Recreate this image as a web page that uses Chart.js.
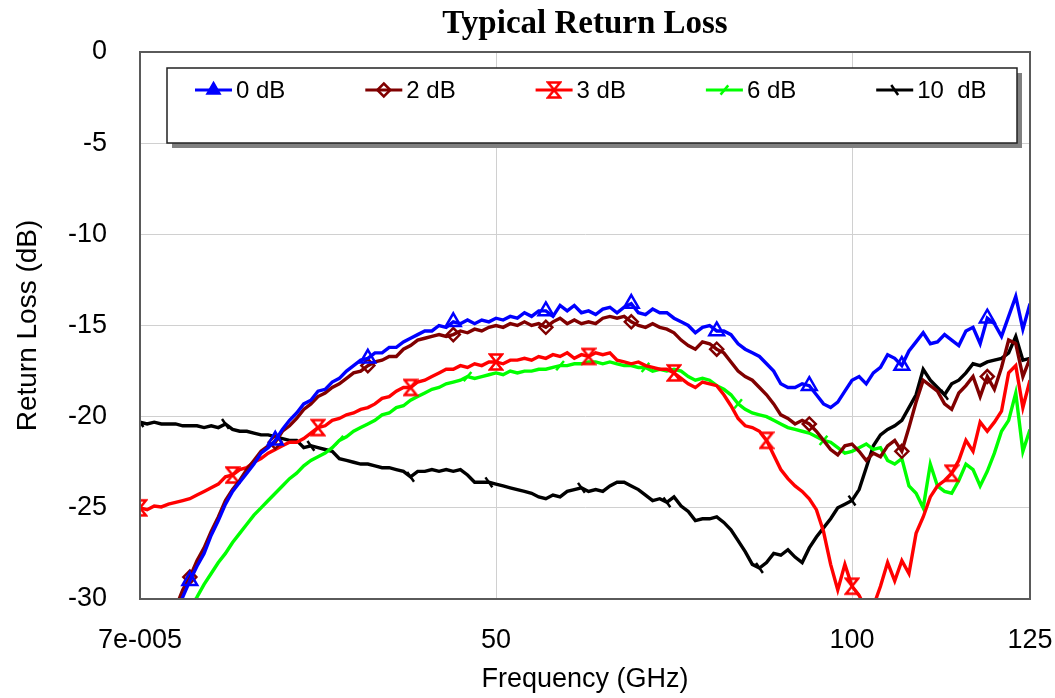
<!DOCTYPE html>
<html>
<head>
<meta charset="utf-8">
<script src="https://cdn.jsdelivr.net/npm/chart.js@4.4.1/dist/chart.umd.min.js"></script>
<style>
html,body{margin:0;padding:0;background:#fff;overflow:hidden}
#wrap{width:1055px;height:698px;position:relative}
</style>
</head>
<body>
<div id="wrap"><canvas id="c" width="1055" height="698"></canvas></div>
<script>
// ---------------- DATA ----------------
const freqGHz = [0,1,2,3,4,5,6,7,8,9,10,11,12,13,14,15,16,17,18,19,20,21,22,23,24,25,26,27,28,29,30,31,32,33,34,35,36,37,38,39,40,41,42,43,44,45,46,47,48,49,50,51,52,53,54,55,56,57,58,59,60,61,62,63,64,65,66,67,68,69,70,71,72,73,74,75,76,77,78,79,80,81,82,83,84,85,86,87,88,89,90,91,92,93,94,95,96,97,98,99,100,101,102,103,104,105,106,107,108,109,110,111,112,113,114,115,116,117,118,119,120,121,122,123,124,125];

const xTickValues = [0, 50, 100, 125];
const xTickLabels = ['7e-005', '50', '100', '125'];
const seriesNames = ['0 dB', '2 dB', '3 dB', '6 dB', '10  dB'];

const rl0dB = [null,null,null,null,null,-30.8,-29.9,-29.0,-28.2,-27.5,-26.5,-25.7,-24.8,-24.1,-23.6,-23.1,-22.6,-22.0,-21.7,-21.3,-20.7,-20.2,-19.8,-19.3,-19.1,-18.6,-18.5,-18.1,-17.9,-17.5,-17.2,-16.9,-16.8,-16.5,-16.5,-16.2,-16.2,-15.9,-15.7,-15.5,-15.3,-15.3,-15.0,-15.1,-14.8,-14.9,-14.7,-14.9,-14.7,-14.8,-14.6,-14.7,-14.5,-14.6,-14.3,-14.5,-14.2,-14.2,-14.5,-13.9,-14.2,-13.9,-14.3,-14.2,-14.4,-14.1,-14.0,-14.3,-14.0,-13.8,-14.3,-14.4,-14.1,-14.3,-14.3,-14.6,-14.8,-15.0,-15.4,-15.1,-15.0,-15.3,-15.3,-15.5,-16.0,-16.3,-16.5,-16.7,-17.1,-17.5,-18.2,-18.4,-18.4,-18.2,-18.3,-18.8,-19.3,-19.5,-19.2,-18.6,-18.0,-17.8,-18.2,-17.6,-17.3,-16.6,-16.8,-17.2,-16.4,-15.9,-15.4,-16.0,-15.9,-15.5,-15.8,-16.1,-15.3,-15.1,-16.0,-14.6,-14.9,-15.6,-14.5,-13.4,-15.2,-13.8];

const rl2dB = [null,null,null,null,null,-30.5,-29.5,-28.8,-27.9,-27.2,-26.3,-25.5,-24.6,-24.0,-23.5,-22.9,-22.4,-21.9,-21.6,-21.4,-20.8,-20.5,-20.1,-19.6,-19.3,-18.9,-18.7,-18.4,-18.2,-17.9,-17.6,-17.5,-17.2,-17.0,-16.9,-16.7,-16.7,-16.3,-16.1,-15.8,-15.7,-15.6,-15.5,-15.6,-15.5,-15.3,-15.4,-15.2,-15.3,-15.1,-15.0,-15.1,-14.9,-15.0,-14.8,-15.0,-14.9,-15.1,-14.8,-14.6,-14.9,-14.7,-14.9,-14.8,-14.9,-14.6,-14.5,-14.6,-14.5,-14.8,-15.0,-15.1,-14.9,-15.1,-15.2,-15.4,-15.8,-16.1,-16.3,-15.9,-16.0,-16.3,-16.5,-17.0,-17.5,-17.8,-18.0,-18.4,-18.8,-19.3,-19.9,-20.1,-20.4,-20.2,-20.4,-20.8,-21.3,-21.8,-22.1,-21.6,-21.5,-21.9,-22.4,-22.0,-22.2,-21.6,-21.3,-21.9,-20.6,-19.2,-18.0,-18.3,-18.6,-19.3,-19.6,-18.7,-18.3,-17.8,-18.9,-17.8,-18.5,-17.3,-15.8,-16.0,-17.8,-16.8];

const rl3dB = [-25.0,-25.1,-24.9,-24.95,-24.8,-24.7,-24.6,-24.5,-24.3,-24.1,-23.9,-23.7,-23.3,-23.2,-22.9,-22.8,-22.5,-22.3,-22.0,-21.8,-21.6,-21.4,-21.4,-21.2,-20.9,-20.6,-20.5,-20.2,-20.1,-19.9,-19.8,-19.6,-19.5,-19.3,-19.0,-18.9,-18.6,-18.4,-18.4,-18.1,-18.0,-17.8,-17.6,-17.4,-17.4,-17.2,-17.3,-17.1,-17.2,-17.0,-17.0,-17.1,-16.9,-16.9,-16.8,-16.9,-16.7,-16.8,-16.6,-16.7,-16.5,-16.8,-16.6,-16.7,-16.5,-16.6,-16.5,-16.9,-17.0,-17.1,-17.0,-17.2,-17.3,-17.4,-17.4,-17.6,-17.9,-18.2,-18.4,-18.1,-18.2,-18.3,-18.8,-19.4,-20.1,-20.5,-20.6,-20.8,-21.3,-22.1,-22.9,-23.4,-23.8,-24.1,-24.5,-25.1,-26.3,-28.1,-29.5,-28.1,-29.3,-29.8,-30.6,-30.4,-29.3,-28.0,-29.0,-27.9,-28.6,-26.4,-25.5,-24.4,-23.8,-23.5,-23.1,-22.4,-21.3,-21.9,-20.3,-20.8,-20.3,-19.7,-17.6,-17.2,-19.5,-18.0];

const rl6dB = [null,null,null,null,null,null,-31.2,-30.5,-29.9,-29.2,-28.6,-28.0,-27.5,-26.9,-26.4,-25.9,-25.4,-25.0,-24.6,-24.2,-23.8,-23.4,-23.1,-22.7,-22.4,-22.2,-22.0,-21.7,-21.3,-21.1,-20.8,-20.6,-20.4,-20.2,-19.9,-19.8,-19.5,-19.4,-19.1,-18.9,-18.7,-18.5,-18.4,-18.2,-18.1,-18.0,-17.8,-17.9,-17.8,-17.7,-17.6,-17.7,-17.5,-17.6,-17.5,-17.5,-17.4,-17.4,-17.3,-17.2,-17.2,-17.1,-17.1,-17.0,-17.0,-17.1,-17.0,-17.1,-17.2,-17.2,-17.3,-17.3,-17.5,-17.4,-17.5,-17.4,-17.5,-17.8,-18.0,-17.9,-18.0,-18.3,-18.5,-18.8,-19.3,-19.6,-19.8,-19.9,-20.0,-20.2,-20.4,-20.6,-20.7,-20.8,-20.9,-21.1,-21.3,-21.4,-21.7,-22.0,-21.9,-21.7,-21.5,-21.8,-21.7,-22.4,-22.6,-22.3,-23.8,-24.2,-25.0,-22.6,-23.8,-24.1,-24.2,-23.5,-22.6,-22.9,-23.8,-23.0,-22.0,-20.8,-20.2,-18.7,-21.9,-20.7];

const rl10dB = [-20.3,-20.4,-20.3,-20.4,-20.4,-20.4,-20.5,-20.5,-20.5,-20.6,-20.5,-20.6,-20.4,-20.7,-20.8,-20.8,-20.9,-21.0,-21.0,-21.1,-21.2,-21.3,-21.3,-21.7,-21.6,-21.7,-21.8,-21.9,-22.3,-22.4,-22.5,-22.6,-22.6,-22.7,-22.8,-22.8,-22.9,-23.0,-23.3,-23.0,-23.0,-22.9,-23.0,-22.9,-23.0,-22.9,-23.2,-23.6,-23.6,-23.6,-23.7,-23.8,-23.9,-24.0,-24.1,-24.2,-24.4,-24.5,-24.3,-24.4,-24.1,-24.0,-23.9,-24.1,-24.0,-24.1,-23.8,-23.6,-23.6,-23.8,-24.0,-24.3,-24.6,-24.5,-24.7,-24.4,-24.9,-25.2,-25.7,-25.6,-25.6,-25.5,-25.8,-26.2,-26.8,-27.4,-28.1,-28.3,-28.0,-27.5,-27.6,-27.3,-27.7,-28.0,-27.2,-26.6,-26.1,-25.6,-25.0,-24.8,-24.6,-24.0,-22.8,-21.6,-21.0,-20.7,-20.5,-20.2,-19.5,-18.8,-17.4,-18.0,-18.4,-18.8,-18.2,-18.0,-17.6,-17.1,-17.2,-17.0,-16.9,-16.8,-16.5,-15.6,-16.9,-16.8];

// ---------------- STYLE ----------------
const SANS = 'Liberation Sans';
const SERIF = 'Liberation Serif';

function hourglass(color) {
  const c = document.createElement('canvas');
  c.width = 16; c.height = 20;
  const g = c.getContext('2d');
  g.strokeStyle = color; g.lineWidth = 2.6; g.lineJoin = 'miter';
  g.beginPath();
  g.moveTo(2, 2.5); g.lineTo(14, 2.5); g.lineTo(2, 17.5); g.lineTo(14, 17.5); g.closePath();
  g.stroke();
  return c;
}

const styles = [
  { color: '#0000ff', pointStyle: 'triangle', radius: 8.5, rotation: 0, markers: [7,19,32,44,57,69,81,94,107,119] },
  { color: '#800000', pointStyle: 'rectRot', radius: 6.5, rotation: 0, markers: [7,19,32,44,57,69,81,94,107,119] },
  { color: '#ff0000', pointStyle: hourglass('#ff0000'), radius: 8, rotation: 0, markers: [0,13,25,38,50,63,75,88,100,114] },
  { color: '#00ff00', pointStyle: 'line', radius: 6, rotation: -50, markers: [28,46,59,71,84,96] },
  { color: '#000000', pointStyle: 'line', radius: 6, rotation: 55, markers: [0,12,24,38,49,62,74,87,100,113] }
];
const seriesData = [rl0dB, rl2dB, rl3dB, rl6dB, rl10dB];

const datasets = seriesData.map((d, i) => {
  const s = styles[i];
  return {
    label: seriesNames[i],
    data: d,
    borderColor: s.color,
    backgroundColor: s.color,
    borderWidth: 3.4,
    tension: 0,
    fill: false,
    clip: 0,
    spanGaps: false,
    pointStyle: s.pointStyle,
    pointRotation: s.rotation,
    pointBorderColor: s.color,
    pointBackgroundColor: 'rgba(0,0,0,0)',
    pointBorderWidth: 2.5,
    pointHoverRadius: 0,
    pointRadius: (ctx) => s.markers.includes(freqGHz[ctx.dataIndex]) ? s.radius : 0
  };
});

function drawMarker(ctx, s, x, y) {
  ctx.save();
  ctx.strokeStyle = s.color; ctx.fillStyle = s.color; ctx.lineWidth = 2.5;
  const r = s.radius;
  if (typeof s.pointStyle !== 'string') {
    ctx.drawImage(s.pointStyle, x - s.pointStyle.width / 2, y - s.pointStyle.height / 2);
  } else if (s.pointStyle === 'triangle') {
    const rr = r * 0.8;
    ctx.beginPath();
    ctx.moveTo(x, y - rr);
    ctx.lineTo(x + rr * 0.866, y + rr * 0.5);
    ctx.lineTo(x - rr * 0.866, y + rr * 0.5);
    ctx.closePath(); ctx.fill(); ctx.stroke();
  } else if (s.pointStyle === 'rectRot') {
    ctx.beginPath();
    ctx.moveTo(x, y - r); ctx.lineTo(x + r, y); ctx.lineTo(x, y + r); ctx.lineTo(x - r, y);
    ctx.closePath(); ctx.stroke();
  } else if (s.pointStyle === 'line') {
    const a = s.rotation * Math.PI / 180;
    ctx.beginPath();
    ctx.moveTo(x - Math.cos(a) * r, y - Math.sin(a) * r);
    ctx.lineTo(x + Math.cos(a) * r, y + Math.sin(a) * r);
    ctx.stroke();
  }
  ctx.restore();
}

const frameAndLegend = {
  id: 'frameAndLegend',
  afterDraw(chart) {
    const { ctx, chartArea: a } = chart;
    ctx.save();
    // plot frame
    ctx.strokeStyle = '#5a5a5a';
    ctx.lineWidth = 2;
    ctx.strokeRect(a.left, a.top, a.right - a.left, a.bottom - a.top);
    // legend box with shadow
    const bx = a.left + 27, by = a.top + 16, bw = a.right - a.left - 40, bh = 75;
    ctx.fillStyle = '#808080';
    ctx.fillRect(bx + 5, by + 5, bw, bh);
    ctx.fillStyle = '#ffffff';
    ctx.fillRect(bx, by, bw, bh);
    ctx.strokeStyle = '#222222';
    ctx.lineWidth = 1.5;
    ctx.strokeRect(bx, by, bw, bh);
    // items
    const iy = by + 22;
    ctx.font = '24px "' + SANS + '"';
    ctx.textBaseline = 'middle';
    ctx.textAlign = 'left';
    chart.data.datasets.forEach((ds, i) => {
      const s = styles[i];
      const x0 = bx + 28 + i * 170.3;
      ctx.strokeStyle = s.color;
      ctx.lineWidth = 3;
      ctx.beginPath();
      ctx.moveTo(x0, iy); ctx.lineTo(x0 + 37, iy);
      ctx.stroke();
      drawMarker(ctx, s, x0 + 18.5, iy);
      ctx.fillStyle = '#000000';
      ctx.fillText(ds.label, x0 + 41, iy + 1);
    });
    ctx.restore();
  }
};

new Chart(document.getElementById('c'), {
  type: 'line',
  data: { labels: freqGHz, datasets },
  plugins: [frameAndLegend],
  options: {
    responsive: false,
    animation: false,
    devicePixelRatio: 1,
    layout: { padding: { left: 0, right: 25, top: 0, bottom: 0 } },
    interaction: { mode: 'nearest', intersect: true },
    plugins: {
      legend: { display: false },
      tooltip: { enabled: false },
      title: {
        display: true,
        text: 'Typical Return Loss',
        fullSize: false,
        color: '#000000',
        font: { family: SERIF, size: 33, weight: 'bold' },
        padding: { top: 5, bottom: 7.4 }
      }
    },
    scales: {
      x: {
        type: 'linear',
        min: 0,
        max: 125,
        afterBuildTicks: (scale) => { scale.ticks = xTickValues.map(v => ({ value: v })); },
        afterFit: (scale) => { scale.height = 99; },
        ticks: {
          autoSkip: false,
          maxRotation: 0,
          padding: 0,
          color: '#000000',
          font: { family: SANS, size: 27 },
          callback: (v) => { const k = xTickValues.indexOf(v); return k >= 0 ? xTickLabels[k] : ''; }
        },
        grid: { color: '#d0d0d0', lineWidth: 1, drawTicks: true, tickLength: 25, tickColor: 'rgba(0,0,0,0)' },
        border: { display: true, color: '#5a5a5a', width: 2 },
        title: {
          display: true,
          text: 'Frequency (GHz)',
          color: '#000000',
          font: { family: SANS, size: 27 },
          padding: { top: 0, bottom: 2 }
        }
      },
      y: {
        type: 'linear',
        min: -30,
        max: 0,
        afterFit: (scale) => { scale.width = 140; },
        ticks: {
          stepSize: 5,
          padding: 33,
          color: '#000000',
          font: { family: SANS, size: 27 }
        },
        grid: { color: '#d0d0d0', lineWidth: 1, drawTicks: false },
        border: { display: true, color: '#5a5a5a', width: 2 },
        title: {
          display: true,
          text: 'Return Loss (dB)',
          color: '#000000',
          font: { family: SANS, size: 28 },
          padding: { top: 11, bottom: 0 }
        }
      }
    }
  }
});
</script>
</body>
</html>
